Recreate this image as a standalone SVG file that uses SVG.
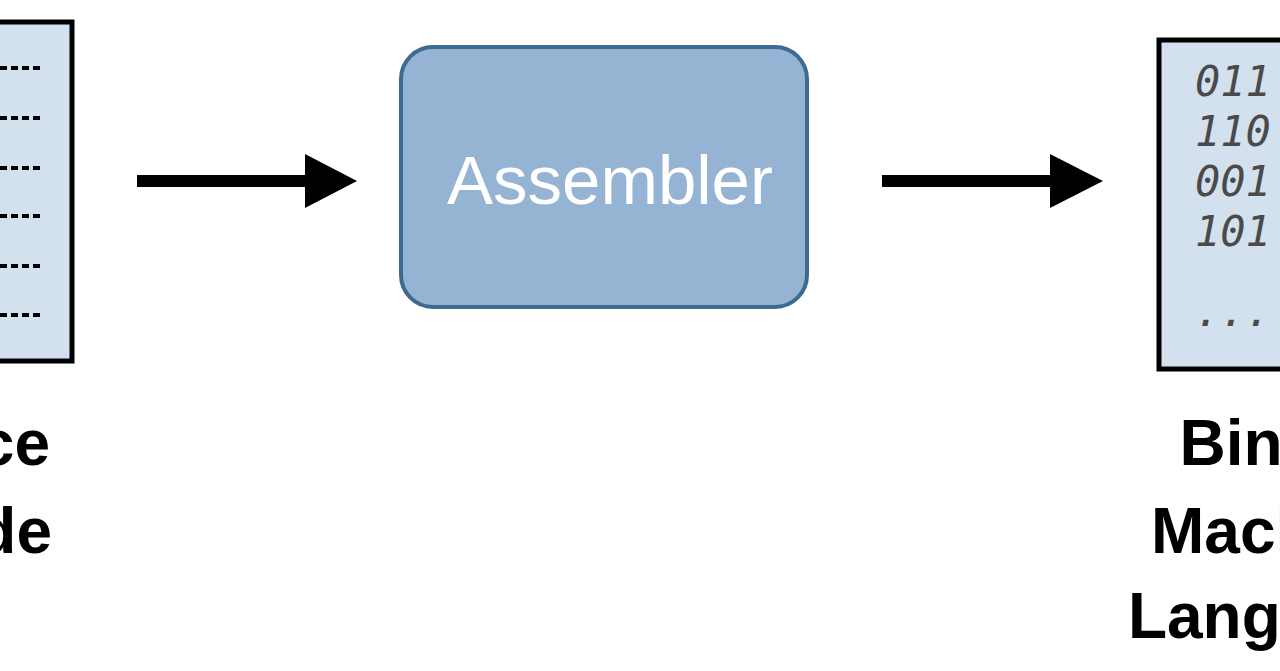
<svg xmlns="http://www.w3.org/2000/svg" width="1280" height="671" viewBox="0 0 1280 671">
<style>
.doc{fill:#d3e1ee;stroke:#000;stroke-width:5}
.lbl{font-family:"Liberation Sans",Arial,sans-serif;font-weight:bold;font-size:64px;fill:#000}
.bin{font-family:"DejaVu Sans Mono","Liberation Mono",monospace;font-style:italic;font-size:42px;fill:#4a4a4a}
.hatch{stroke:#000;stroke-width:4;stroke-dasharray:7 4}
.arr{fill:#000}
</style>
<rect width="1280" height="671" fill="#fff"/>
<g id="source">
<rect class="doc" x="-20" y="22" width="92" height="339"/>
<g class="hatch">
<line x1="0" y1="68" x2="44" y2="68"/>
<line x1="0" y1="118" x2="44" y2="118"/>
<line x1="0" y1="168" x2="44" y2="168"/>
<line x1="0" y1="216" x2="44" y2="216"/>
<line x1="0" y1="266" x2="44" y2="266"/>
<line x1="0" y1="315" x2="44" y2="315"/>
</g>
<text class="lbl" x="50" y="465" text-anchor="end">Source</text>
<text class="lbl" x="52" y="553" text-anchor="end">Code</text>
</g>
<g id="assembler">
<rect x="401" y="47" width="406" height="260" rx="32" fill="#95b3d3" stroke="#3d6a8e" stroke-width="4"/>
<text x="610" y="204" text-anchor="middle" font-family="Liberation Sans,Arial,sans-serif" font-size="69" fill="#fff">Assembler</text>
</g>
<g id="binary">
<rect class="doc" x="1159" y="40" width="160" height="329"/>
<text class="bin" x="1195" y="96">011</text>
<text class="bin" x="1195" y="146">110</text>
<text class="bin" x="1195" y="196">001</text>
<text class="bin" x="1195" y="246">101</text>
<text class="bin" x="1195" y="326">...</text>
<text class="lbl" x="1279" y="465" text-anchor="middle">Binary</text>
<text class="lbl" x="1279" y="553" text-anchor="middle">Machine</text>
<text class="lbl" x="1279" y="638" text-anchor="middle">Language</text>
</g>
<g id="connectors">
<polygon class="arr" points="137,175 305,175 305,154 357,181 305,208 305,187 137,187"/>
<polygon class="arr" points="882,175 1050,175 1050,154 1103,181 1050,208 1050,187 882,187"/>
</g>
</svg>
